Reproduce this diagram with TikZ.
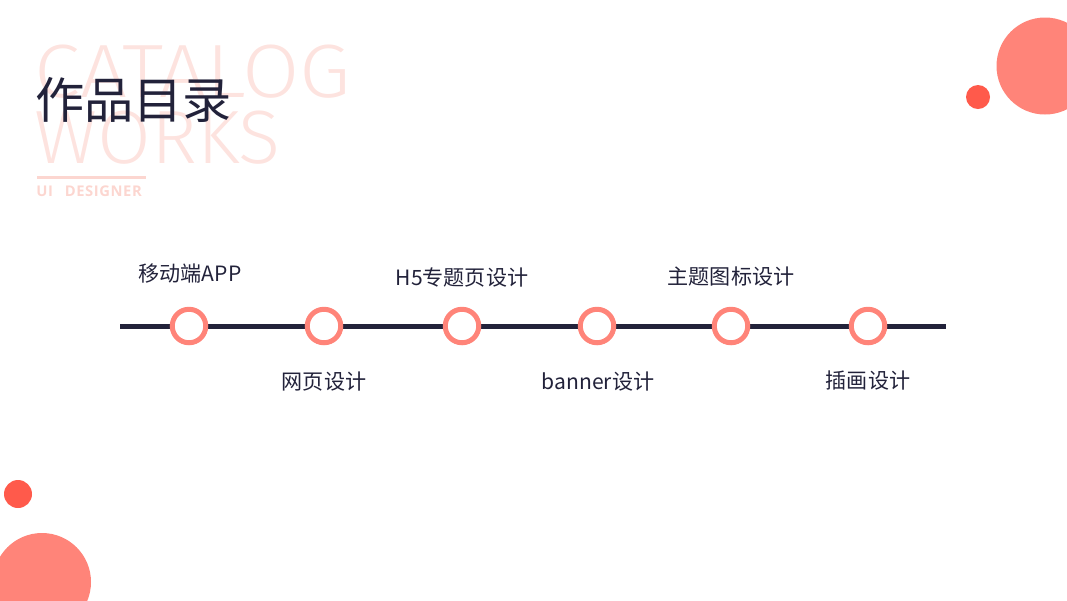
\documentclass[tikz,border=0pt]{standalone}
\usepackage{fontspec}
\setmainfont{Noto Sans CJK SC}
\newfontfamily\thinfont{Fira Sans Light}
\newfontfamily\tagfont[LetterSpace=4]{Open Sans}
\usetikzlibrary{positioning}

\definecolor{navy}{HTML}{22223A}
\definecolor{coral}{HTML}{FF8479}
\definecolor{tomato}{HTML}{FF5A4B}
\definecolor{blush}{HTML}{FDE3DF}
\definecolor{blushbar}{HTML}{FCD6D0}

\tikzset{
  ring/.style={circle, draw=coral, fill=white, line width=5*0.02cm, minimum size=0.67cm, inner sep=0pt},
  item/.style={text=navy, font=\fontsize{12}{14}\selectfont, inner sep=0pt},
  ghost/.style={anchor=base west, inner sep=0pt, text=blush}
}

\begin{document}
\begin{tikzpicture}[x=0.02cm, y=-0.02cm]
      \useasboundingbox (0,0) rectangle (1067,600);

      % Decoration
      \fill[coral] (1045,66) circle (48.5);
      \fill[tomato] (978,97) circle (12);
      \fill[tomato] (18,494) circle (14);
      \fill[coral] (42,582) circle (49);

      % Heading
      \node[ghost, font=\thinfont\addfontfeatures{FakeStretch=1.10}\fontsize{43}{43}\selectfont] (catalog) at (34,97) {CATALOG};
      \node[ghost, font=\thinfont\addfontfeatures{FakeStretch=1.03}\fontsize{43}{43}\selectfont] (works) at (34,163) {WORKS};
      \node[anchor=west, inner sep=0pt, text=navy, font=\fontsize{28}{28}\selectfont] (title) at (35,100) {作品目录};
      \draw[blushbar, line width=3*0.02cm] (37,177) -- (146,177);
      \node[anchor=base west, inner sep=0pt, text=blushbar, font=\tagfont\bfseries\fontsize{8.4}{9}\selectfont] (tag) at (36,196) {UI\hspace{0.8em}DESIGNER};

      % Timeline
      \coordinate (lstart) at (120,326);
      \coordinate (lend) at (946,326);
      \draw[navy, line width=5*0.02cm] (lstart) -- (lend);

      \node[ring] (app) at (189,326) {};
      \node[ring] (web) at (324,326) {};
      \node[ring] (h5) at (462,326) {};
      \node[ring] (banner) at (597,326) {};
      \node[ring] (icon) at (731,326) {};
      \node[ring] (draw) at (868,326) {};

      % Labels
      \node[item] (appl) at (190,274) {移动端APP};
      \node[item] (webl) at (324,382) {网页设计};
      \node[item] (h5l) at (462,277) {H5专题页设计};
      \node[item] (bannerl) at (598,382) {banner设计};
      \node[item] (iconl) at (731,277) {主题图标设计};
      \node[item] (drawl) at (868,381) {插画设计};
    \end{tikzpicture}
\end{document}
